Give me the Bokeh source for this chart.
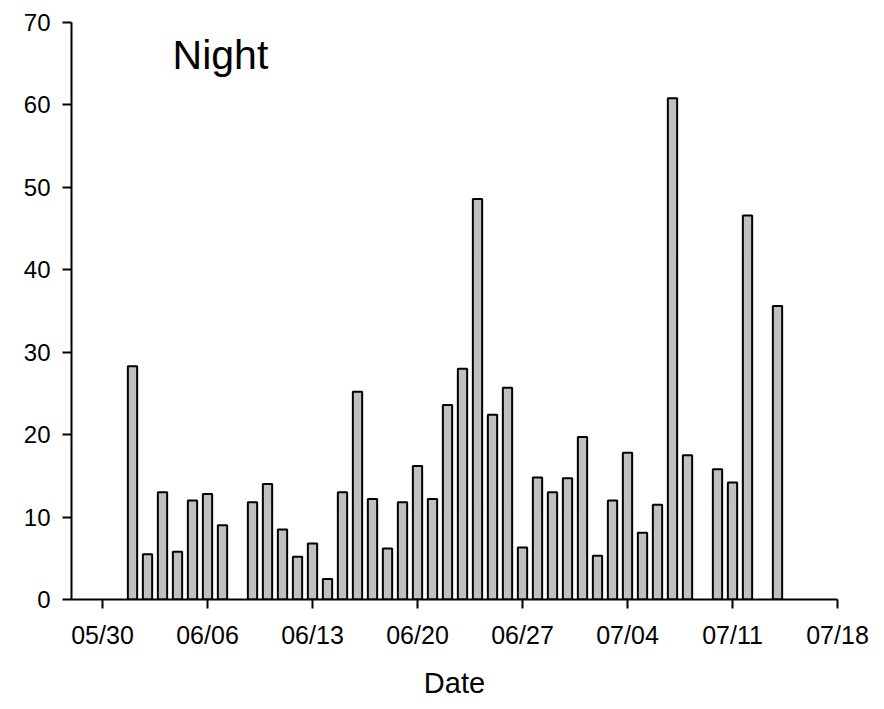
from datetime import datetime, timedelta
from bokeh.plotting import figure
from bokeh.models import ColumnDataSource, FixedTicker, DatetimeTickFormatter, Range1d, Label
from bokeh.embed import file_html
from bokeh.resources import INLINE

# ---- data ----
dates = ["06/01", "06/02", "06/03", "06/04", "06/05", "06/06", "06/07",
         "06/09", "06/10", "06/11", "06/12", "06/13", "06/14", "06/15",
         "06/16", "06/17", "06/18", "06/19", "06/20", "06/21", "06/22",
         "06/23", "06/24", "06/25", "06/26", "06/27", "06/28", "06/29",
         "06/30", "07/01", "07/02", "07/03", "07/04", "07/05", "07/06",
         "07/07", "07/08", "07/10", "07/11", "07/12", "07/14"]
values = [28.3, 5.5, 13.0, 5.8, 12.0, 12.8, 9.0,
          11.8, 14.0, 8.5, 5.2, 6.8, 2.5, 13.0,
          25.2, 12.2, 6.2, 11.8, 16.2, 12.2, 23.6,
          28.0, 48.6, 22.4, 25.7, 6.3, 14.8, 13.0,
          14.7, 19.7, 5.3, 12.0, 17.8, 8.1, 11.5,
          60.8, 17.5, 15.8, 14.2, 46.6, 35.6]
tick_labels = ["05/30", "06/06", "06/13", "06/20", "06/27", "07/04", "07/11", "07/18"]
y_ticks = [0, 10, 20, 30, 40, 50, 60, 70]
title_text = "Night"
x_label = "Date"
YEAR = 2010

def to_dt(s):
    m, d = s.split("/")
    return datetime(YEAR, int(m), int(d))

xs = [to_dt(s) for s in dates]
tick_dts = [to_dt(s) for s in tick_labels]
EPOCH = datetime(1970, 1, 1)
tick_ms = [(t - EPOCH).total_seconds() * 1000 for t in tick_dts]

src = ColumnDataSource(dict(x=xs, top=values))

FONT = "Liberation Sans"
start = tick_dts[0] - timedelta(days=2.067)
end = tick_dts[-1]

p = figure(width=876, height=701, x_axis_type="datetime",
           x_range=Range1d(start, end), y_range=Range1d(0, 70),
           output_backend="svg", toolbar_location=None,
           min_border_left=71, min_border_top=22, min_border_right=39, min_border_bottom=102)
p.outline_line_color = None
p.xgrid.visible = False
p.ygrid.visible = False
p.background_fill_color = "white"

p.vbar(x="x", top="top", bottom=0, width=0.62 * 86400000, source=src,
       fill_color="#c0c0c0", line_color="black", line_width=2)

fmt = "%m/%d"
p.xaxis.ticker = FixedTicker(ticks=tick_ms)
p.xaxis.formatter = DatetimeTickFormatter(days=fmt, months=fmt, hours=fmt, years=fmt,
                                          minutes=fmt, seconds=fmt, milliseconds=fmt,
                                          microseconds=fmt, minsec=fmt, hourmin=fmt)
p.yaxis.ticker = FixedTicker(ticks=y_ticks)

for ax in (p.xaxis, p.yaxis):
    ax.axis_line_color = "black"
    ax.axis_line_width = 2
    ax.major_tick_line_color = "black"
    ax.major_tick_line_width = 2
    ax.major_tick_out = 9
    ax.major_tick_in = 0
    ax.minor_tick_line_color = None
    ax.major_label_text_font = FONT
    ax.major_label_text_color = "black"

p.xaxis.major_label_text_font_size = "25px"
p.yaxis.major_label_text_font_size = "24px"
p.xaxis.major_label_standoff = 12
p.yaxis.major_label_standoff = 12
p.xaxis.axis_label = x_label
p.xaxis.axis_label_text_font = FONT
p.xaxis.axis_label_text_font_size = "29px"
p.xaxis.axis_label_text_font_style = "normal"
p.xaxis.axis_label_text_color = "black"
p.xaxis.axis_label_standoff = 15

p.add_layout(Label(x=tick_dts[0] + timedelta(days=4.67), y=66.0, text=title_text,
                   text_font=FONT, text_font_size="41px", text_color="black",
                   text_baseline="alphabetic", text_align="left"))

open("out.html", "w").write(file_html(p, INLINE))
